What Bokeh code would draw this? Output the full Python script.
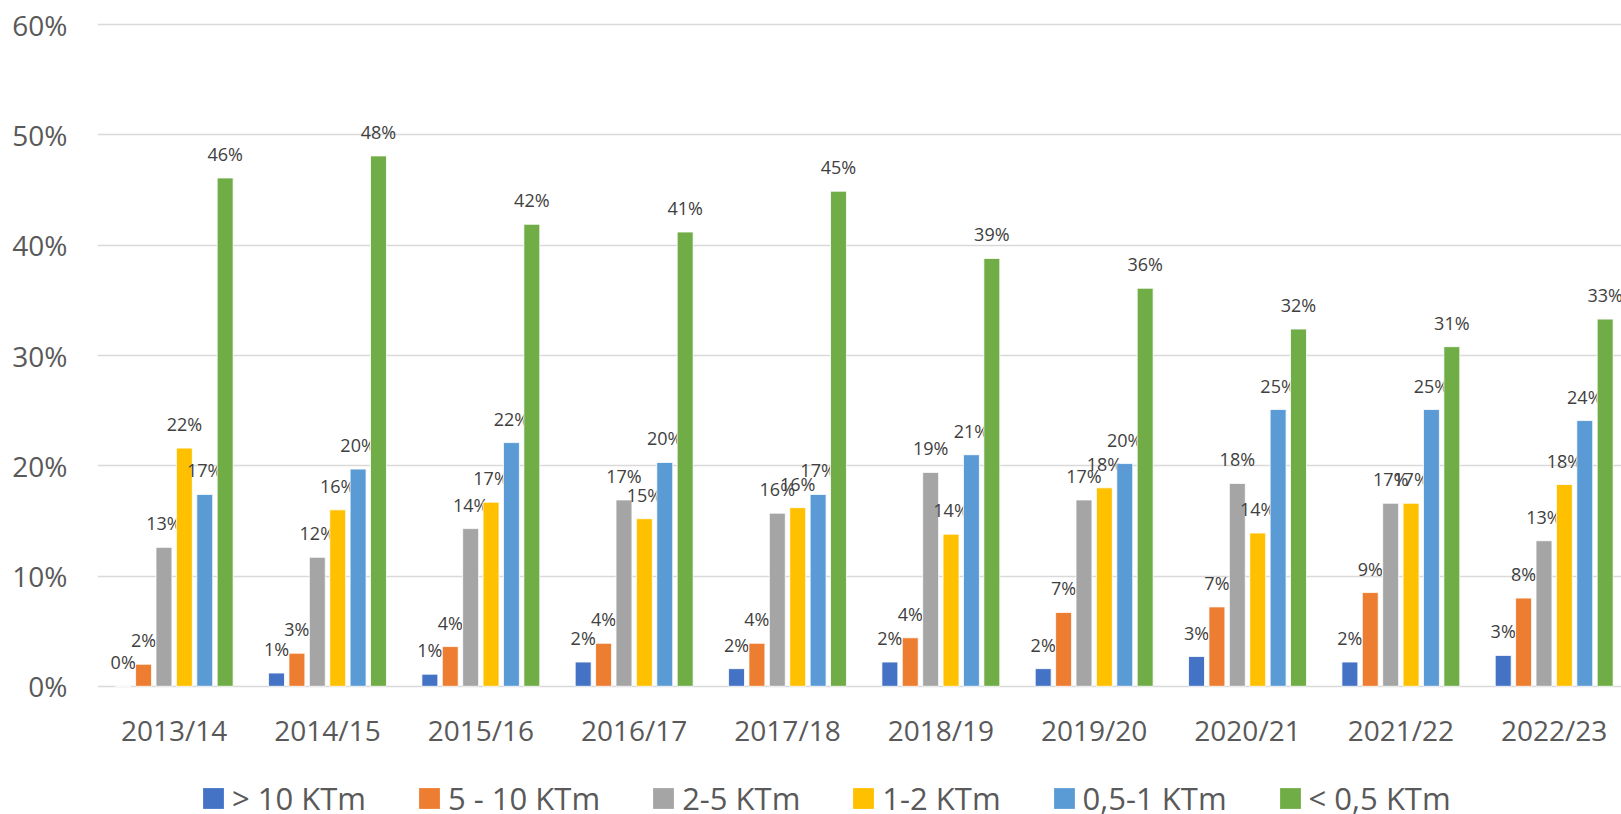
from bokeh.plotting import figure
from bokeh.layouts import column
from bokeh.models import ColumnDataSource, Range1d, FixedTicker, Legend, LegendItem, NumeralTickFormatter
from bokeh.core.properties import value
from bokeh.embed import file_html
from bokeh.resources import INLINE

seasons = ["2013/14", "2014/15", "2015/16", "2016/17", "2017/18",
           "2018/19", "2019/20", "2020/21", "2021/22", "2022/23"]
series_names = ["> 10 KTm", "5 - 10 KTm", "2-5 KTm", "1-2 KTm", "0,5-1 KTm", "< 0,5 KTm"]
colors = ["#4472C4", "#ED7D31", "#A5A5A5", "#FFC000", "#5B9BD5", "#70AD47"]

over_10 = [0.0, 1.2, 1.1, 2.2, 1.6, 2.2, 1.6, 2.7, 2.2, 2.8]
from_5_to_10 = [2.0, 3.0, 3.6, 3.9, 3.9, 4.4, 6.7, 7.2, 8.5, 8.0]
from_2_to_5 = [12.6, 11.7, 14.3, 16.9, 15.7, 19.4, 16.9, 18.4, 16.6, 13.2]
from_1_to_2 = [21.6, 16.0, 16.7, 15.2, 16.2, 13.8, 18.0, 13.9, 16.6, 18.3]
from_05_to_1 = [17.4, 19.7, 22.1, 20.3, 17.4, 21.0, 20.2, 25.1, 25.1, 24.1]
under_05 = [46.1, 48.1, 41.9, 41.2, 44.9, 38.8, 36.1, 32.4, 30.8, 33.3]

series = [over_10, from_5_to_10, from_2_to_5, from_1_to_2, from_05_to_1, under_05]

FONT = "Open Sans"
pitch = 0.133
bar_w = 0.104

p = figure(width=1621, height=746, output_backend="svg", toolbar_location=None,
           x_range=Range1d(-0.5, 9.439), y_range=Range1d(-0.002, 0.602),
           min_border_left=97, min_border_right=0, min_border_top=22, min_border_bottom=58)
p.frame_height = 666
p.frame_width = 1524
p.outline_line_color = None
p.background_fill_color = "white"
p.border_fill_color = "white"

for k, (vals, name, col) in enumerate(zip(series, series_names, colors)):
    off = (k - 2.5) * pitch
    xs = [i + off for i in range(len(seasons))]
    ys = [v / 100 for v in vals]
    labels = [f"{int(v + 0.5)}%" for v in vals]
    src = ColumnDataSource(dict(x=xs, top=ys, label=labels))
    p.vbar(x="x", top="top", width=bar_w, bottom=0, source=src,
           fill_color=col, line_color="white", line_width=0.8)
    p.text(x="x", y="top", text="label", source=src, text_align="center",
           text_baseline="alphabetic", y_offset=-24, text_font=value(FONT),
           text_font_size="18px", text_color="#404040")

# axes
p.xaxis.ticker = FixedTicker(ticks=list(range(len(seasons))))
p.xaxis.major_label_overrides = {i: s for i, s in enumerate(seasons)}
p.xaxis.axis_line_color = None
p.xaxis.major_tick_line_color = None
p.xaxis.minor_tick_line_color = None
p.xaxis.major_label_text_font = FONT
p.xaxis.major_label_text_font_size = "28px"
p.xaxis.major_label_text_color = "#595959"
p.xaxis.major_label_standoff = 16

p.yaxis.ticker = FixedTicker(ticks=[0, 0.1, 0.2, 0.3, 0.4, 0.5, 0.6])
p.yaxis.formatter = NumeralTickFormatter(format="0%")
p.yaxis.axis_line_color = None
p.yaxis.major_tick_line_color = None
p.yaxis.minor_tick_line_color = None
p.yaxis.major_label_text_font = FONT
p.yaxis.major_label_text_font_size = "28px"
p.yaxis.major_label_text_color = "#595959"
p.yaxis.major_label_standoff = 24

p.xgrid.grid_line_color = None
p.ygrid.grid_line_color = "#D9D9D9"
p.ygrid.grid_line_width = 1.5

# legend strip (placeholder glyphs sit outside the visible range; they only supply legend swatches)
lf = figure(width=1621, height=68, output_backend="svg", toolbar_location=None,
            x_range=Range1d(0, 1), y_range=Range1d(0, 1),
            x_axis_location=None, y_axis_location=None, min_border=0)
lf.outline_line_color = None
lf.xgrid.grid_line_color = None
lf.ygrid.grid_line_color = None
items = []
for name, col in zip(series_names, colors):
    r = lf.vbar(x=[5], top=[1], width=0.1, fill_color=col, line_color=None)
    items.append(LegendItem(label=name, renderers=[r]))
legend = Legend(items=items, orientation="horizontal", location=(103, 0),
                glyph_width=26, glyph_height=26, label_standoff=6, spacing=50,
                label_text_font=FONT, label_text_font_size="31px",
                label_text_color="#595959", border_line_color=None,
                background_fill_alpha=0, padding=0, margin=0,
                label_text_baseline="middle")
lf.add_layout(legend, "center")

layout = column(p, lf, spacing=0)
open("out.html", "w").write(file_html(layout, INLINE))
